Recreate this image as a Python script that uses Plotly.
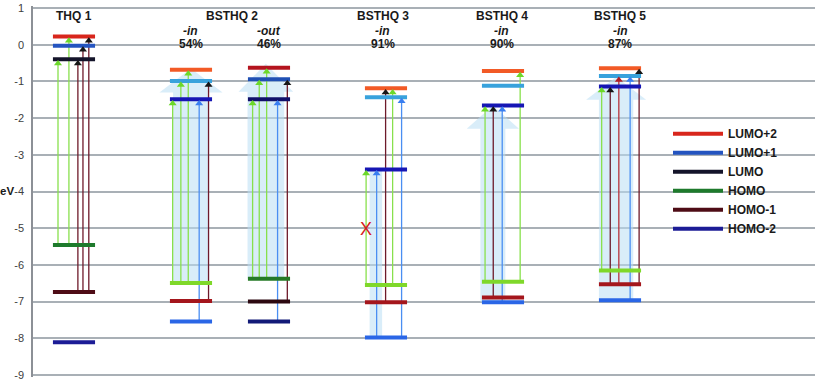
import plotly.graph_objects as go

# ---------------- data ----------------
level_names = ["LUMO+2", "LUMO+1", "LUMO", "HOMO", "HOMO-1", "HOMO-2"]
column_titles = ["THQ 1", "BSTHQ 2", "BSTHQ 3", "BSTHQ 4", "BSTHQ 5"]
conformer_labels = ["-in", "-out", "-in", "-in", "-in"]
conformer_pct = ["54%", "46%", "91%", "90%", "87%"]

# energies (eV) in level_names order
thq1 = [0.22, -0.03, -0.40, -5.46, -6.74, -8.11]
bsthq2_in = [-0.68, -0.99, -1.49, -6.49, -6.98, -7.54]
bsthq2_out = [-0.63, -0.94, -1.49, -6.38, -7.00, -7.54]
bsthq3 = [-1.19, -1.43, -3.40, -6.55, -7.02, -7.98]
bsthq4 = [-0.72, -1.12, -1.66, -6.46, -6.89, -7.02]
bsthq5 = [-0.64, -0.85, -1.14, -6.15, -6.53, -6.96]
columns = [thq1, bsthq2_in, bsthq2_out, bsthq3, bsthq4, bsthq5]

# transitions: (column index, from level, to level, kind)
transitions = [
    (0, "HOMO", "LUMO", "g"), (0, "HOMO", "LUMO+2", "g"),
    (0, "HOMO-1", "LUMO", "m"), (0, "HOMO-1", "LUMO+1", "m"), (0, "HOMO-1", "LUMO+2", "m"),
    (1, "HOMO", "LUMO", "g"), (1, "HOMO", "LUMO+1", "g"), (1, "HOMO", "LUMO+2", "g"),
    (1, "HOMO-2", "LUMO", "b"), (1, "HOMO-1", "LUMO+1", "m"),
    (2, "HOMO", "LUMO", "g"), (2, "HOMO", "LUMO+1", "g"), (2, "HOMO", "LUMO+2", "g"),
    (2, "HOMO-2", "LUMO", "b"), (2, "HOMO-1", "LUMO+1", "m"),
    (3, "HOMO", "LUMO", "g"), (3, "HOMO-2", "LUMO", "b"), (3, "HOMO-1", "LUMO+2", "m"),
    (3, "HOMO", "LUMO+2", "g"), (3, "HOMO-2", "LUMO+1", "b"),
    (4, "HOMO", "LUMO", "g"), (4, "HOMO-1", "LUMO", "m"), (4, "HOMO-2", "LUMO", "b"),
    (4, "HOMO", "LUMO+2", "g"),
    (5, "HOMO", "LUMO", "g"), (5, "HOMO-1", "LUMO", "m"), (5, "HOMO-1", "LUMO+1", "r"),
    (5, "HOMO-2", "LUMO+1", "b"), (5, "HOMO-1", "LUMO+2", "m"),
]
forbidden_marks = [(3, -5.03)]  # red X (column, energy)

tick_vals = [1, 0, -1, -2, -3, -4, -5, -6, -7, -8, -9]
tick_text = ["1", "0", "-1", "-2", "-3", "-4", "-5", "-6", "-7", "-8", "-9"]

# ---------------- layout / style ----------------
col_pos = [0, 3, 5, 8, 11, 14]
title_pos = [0, 4.05, 7.92, 10.97, 14.0]
conf_pos = [3, 5, 7.92, 10.97, 14.0]
trans_offsets = [
    -0.41, -0.13, 0.10, 0.23, 0.38,
    -0.47, -0.26, -0.07, 0.21, 0.45,
    -0.42, -0.25, -0.06, 0.22, 0.47,
    -0.51, -0.24, -0.01, 0.17, 0.40,
    -0.46, -0.25, -0.02, 0.44,
    -0.47, -0.25, -0.03, 0.26, 0.49,
]
half_w = 0.54
pal_legend = ["#d8261c", "#2454c0", "#14142a", "#1e7a2c", "#4e0c16", "#1c1c96"]
pal_dark = ["#b4141e", "#2050b4", "#10106a", "#257a26", "#2c0810", "#121a78"]
pal_light = ["#f25a26", "#38a2dc", "#1616b4", "#7fd82a", "#a4161c", "#2a66e6"]
col_palettes = [pal_legend, pal_light, pal_dark, pal_light, pal_light, pal_light]
line_col = {"g": "#88e04c", "m": "#6e1a2a", "b": "#4a8ef2", "r": "#b8303a"}
head_col = {"g": "#6cd82a", "m": "#161616", "b": "#3a7ef0", "r": "#b01c24"}
# pale big arrows: (col, bottom level, center offset, shaft half, head half, head base, tip)
pale = [
    (1, "HOMO", 0.0, 0.46, 0.81, -1.30, -0.65),
    (2, "HOMO", -0.08, 0.47, 0.70, -1.28, -0.52),
    (3, "HOMO-2", -0.26, 0.16, None, None, -3.40),
    (4, "HOMO-2", -0.26, 0.32, 0.67, -2.29, -1.66),
    (5, "HOMO-2", -0.10, 0.44, 0.77, -1.50, -0.88),
]
pale_fill = "rgba(185,222,244,0.55)"
FONT = "Liberation Sans, Arial, sans-serif"
TOP_M, BOT_M, H = 3, 3, 383

fig = go.Figure()

# pale arrows
for c, bottom, off, sh, hh, base, tip in pale:
    cx = col_pos[c] + off
    yb = columns[c][level_names.index(bottom)]
    if hh is None:
        xs = [cx - sh, cx + sh, cx + sh, cx - sh, cx - sh]
        ys = [yb, yb, tip, tip, yb]
    else:
        xs = [cx - sh, cx + sh, cx + sh, cx + hh, cx, cx - hh, cx - sh, cx - sh]
        ys = [yb, yb, base, base, tip, base, base, yb]
    fig.add_trace(go.Scatter(x=xs, y=ys, mode="lines", fill="toself", fillcolor=pale_fill,
                             line=dict(width=0), showlegend=False, hoverinfo="skip"))

# transitions (lines)
for (c, fr, to, k), off in zip(transitions, trans_offsets):
    x = col_pos[c] + off
    y0 = columns[c][level_names.index(fr)]
    y1 = columns[c][level_names.index(to)]
    fig.add_trace(go.Scatter(x=[x, x], y=[y0, y1], mode="lines",
                             line=dict(color=line_col[k], width=1.3),
                             showlegend=False, hoverinfo="skip"))

# energy levels
for c, (vals, pal) in enumerate(zip(columns, col_palettes)):
    for i, (name, v) in enumerate(zip(level_names, vals)):
        fig.add_trace(go.Scatter(
            x=[col_pos[c] - half_w, col_pos[c] + half_w], y=[v, v], mode="lines",
            line=dict(color=pal[i], width=4), name="<b>%s</b>" % name,
            showlegend=(c == 0), legendrank=i + 1, hoverinfo="skip"))

# arrow heads
for (c, fr, to, k), off in zip(transitions, trans_offsets):
    x = col_pos[c] + off
    y1 = columns[c][level_names.index(to)]
    fig.add_trace(go.Scatter(x=[x], y=[y1 - 0.11], mode="markers",
                             marker=dict(symbol="triangle-up", size=7, color=head_col[k]),
                             showlegend=False, hoverinfo="skip"))

annotations = []
def pxy(py):
    return (H - BOT_M - py) / float(H - TOP_M - BOT_M)

def ann(x, xref, y, yref, text, size=12, color="#1a1a1a"):
    return dict(x=x, xref=xref, y=y, yref=yref, text=text, showarrow=False,
                xanchor="center", yanchor="middle",
                font=dict(size=size, color=color, family=FONT))

for t, xp in zip(column_titles, title_pos):
    annotations.append(ann(xp, "x", pxy(13), "paper", "<b>%s</b>" % t))
for t, p, xp in zip(conformer_labels, conformer_pct, conf_pos):
    annotations.append(ann(xp, "x", pxy(28), "paper", "<b><i>%s</i></b>" % t))
    annotations.append(ann(xp, "x", pxy(42), "paper", "<b>%s</b>" % p))
for c, e in forbidden_marks:
    annotations.append(ann(col_pos[c] - 0.5, "x", e, "y", "X", size=18, color="#d42020"))
annotations.append(ann((7 - 33) / 782.0, "paper", pxy(191), "paper", "<b>eV</b>", size=11.5))

fig.update_layout(
    width=817, height=H,
    margin=dict(l=33, r=2, t=TOP_M, b=BOT_M),
    plot_bgcolor="white", paper_bgcolor="white",
    font=dict(family=FONT, size=11, color="#333333"),
    showlegend=True,
    legend=dict(x=(668 - 33) / 782.0, xanchor="left", y=pxy(118), yanchor="top",
                bgcolor="rgba(0,0,0,0)", font=dict(size=12, color="#1a1a1a", family=FONT),
                itemwidth=50, traceorder="normal"),
    annotations=annotations,
    xaxis=dict(range=[-1.051, 19.0], showgrid=False, zeroline=False, showticklabels=False,
               showline=False, fixedrange=True),
    yaxis=dict(range=[-9.054, 1.054], tickvals=tick_vals, ticktext=tick_text, showgrid=True,
               gridcolor="#a9b0b6", gridwidth=2, zeroline=False, showline=True,
               linecolor="#8c9096", linewidth=1.5,
               ticks="", ticklabelstandoff=5, ticklabeloverflow="allow",
               tickfont=dict(size=11, color="#404040", family=FONT), fixedrange=True),
)

fig.write_html("out.html", config={"displayModeBar": False},
               post_script="document.body.style.margin='0px';document.body.style.overflow='hidden';")
